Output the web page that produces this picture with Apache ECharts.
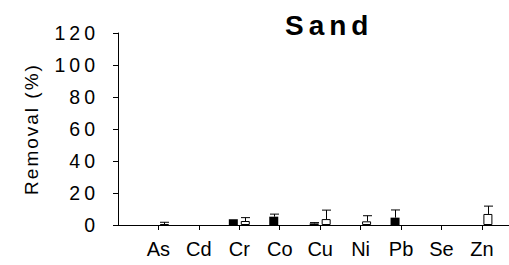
<!DOCTYPE html>
<html>
<head>
<meta charset="utf-8">
<script src="https://cdn.jsdelivr.net/npm/echarts@6/dist/echarts.min.js"></script>
<style>
  html, body { margin: 0; padding: 0; background: #fff; }
  #chart { width: 509px; height: 265px; }
  /* the reference text is drawn with wide letter spacing */
  #chart text[style*="28px"] { letter-spacing: 5px; }
  #chart text[style*="19.5px"] { letter-spacing: 4px; }
  #chart text[style*="19px"] { letter-spacing: 2px; }
</style>
</head>
<body>
<div id="chart"></div>
<script>
// metals on the x axis
const categories = ["As", "Cd", "Cr", "Co", "Cu", "Ni", "Pb", "Se", "Zn"];
// filled (black) bars: mean removal % and upper error
const filledMean = [0, 0, 3.6, 5.2, 1.0, 0, 4.6, 0, 0];
const filledErr = [0, 0, 0, 1.6, 0.5, 0, 4.8, 0, 0];
// open (white) bars
const openMean = [0.5, 0, 2.5, 0, 3.7, 2.3, 0, 0, 6.9];
const openErr = [1.2, 0, 2.1, 0, 5.6, 3.5, 0, 0, 4.9];
const yTicks = [0, 20, 40, 60, 80, 100, 120];

const font = "'Liberation Sans', Arial, sans-serif";
var myChart = echarts.init(document.getElementById("chart"), null, { renderer: "svg" });

// zero means no bar in the figure
function toPairs(arr) {
  return arr.map(function (v, i) { return [i + 1, v > 0 ? v : "-"]; });
}
function errPairs(mean, err) {
  return mean.map(function (v, i) { return [i + 1, v, v + err[i]]; });
}
function errorBar(offset) {
  return function (params, api) {
    if (api.value(2) <= api.value(1)) return null;
    const lo = api.coord([api.value(0), api.value(1)]);
    const hi = api.coord([api.value(0), api.value(2)]);
    const x = Math.round(lo[0] + offset) + 0.5;
    const style = { stroke: "#000", lineWidth: 1 };
    return {
      type: "group",
      children: [
        { type: "line", shape: { x1: x, y1: lo[1], x2: x, y2: hi[1] }, style: style },
        { type: "line", shape: { x1: x - 4.5, y1: hi[1], x2: x + 4.5, y2: hi[1] }, style: style },
      ],
    };
  };
}

var option = {
  backgroundColor: "#fff",
  animation: false,
  title: {
    text: "Sand",
    left: 280,
    top: 6,
    textStyle: { fontFamily: font, fontSize: 28, fontWeight: "bold", color: "#000" },
  },
  grid: { left: 118, right: 0, top: 33, bottom: 40 },
  xAxis: {
    type: "value",
    min: 0,
    max: 9.67,
    interval: 1,
    axisLine: { show: true, lineStyle: { color: "#000", width: 1 } },
    axisTick: { show: true, length: 5, lineStyle: { color: "#000" } },
    splitLine: { show: false },
    axisLabel: {
      margin: 14,
      fontFamily: font,
      fontSize: 20,
      color: "#000",
      showMinLabel: false,
      showMaxLabel: false,
      formatter: function (v) {
        return Number.isInteger(v) && v >= 1 ? categories[v - 1] : "";
      },
    },
  },
  yAxis: {
    type: "value",
    min: 0,
    max: 120,
    interval: 20,
    name: "Removal (%)",
    nameLocation: "middle",
    nameGap: 77,
    nameTextStyle: { fontFamily: font, fontSize: 19, color: "#000" },
    axisLine: { show: true, lineStyle: { color: "#000", width: 1 } },
    axisTick: { show: true, length: 5, lineStyle: { color: "#000" } },
    splitLine: { show: false },
    axisLabel: {
      margin: 19,
      fontFamily: font,
      fontSize: 19.5,
      color: "#000",
      formatter: function (v) { return yTicks.indexOf(v) >= 0 ? String(v) : ""; },
    },
  },
  series: [
    {
      type: "bar",
      data: toPairs(filledMean),
      barWidth: 9,
      barGap: "33%",
      itemStyle: { color: "#000" },
    },
    {
      type: "bar",
      data: toPairs(openMean),
      barWidth: 9,
      barGap: "33%",
      itemStyle: { color: "#fff", borderColor: "#000", borderWidth: 1 },
    },
    {
      type: "custom",
      renderItem: errorBar(-6),
      data: errPairs(filledMean, filledErr),
      z: 3,
    },
    {
      type: "custom",
      renderItem: errorBar(6),
      data: errPairs(openMean, openErr),
      z: 3,
    },
  ],
};

option && myChart.setOption(option);
</script>
</body>
</html>
